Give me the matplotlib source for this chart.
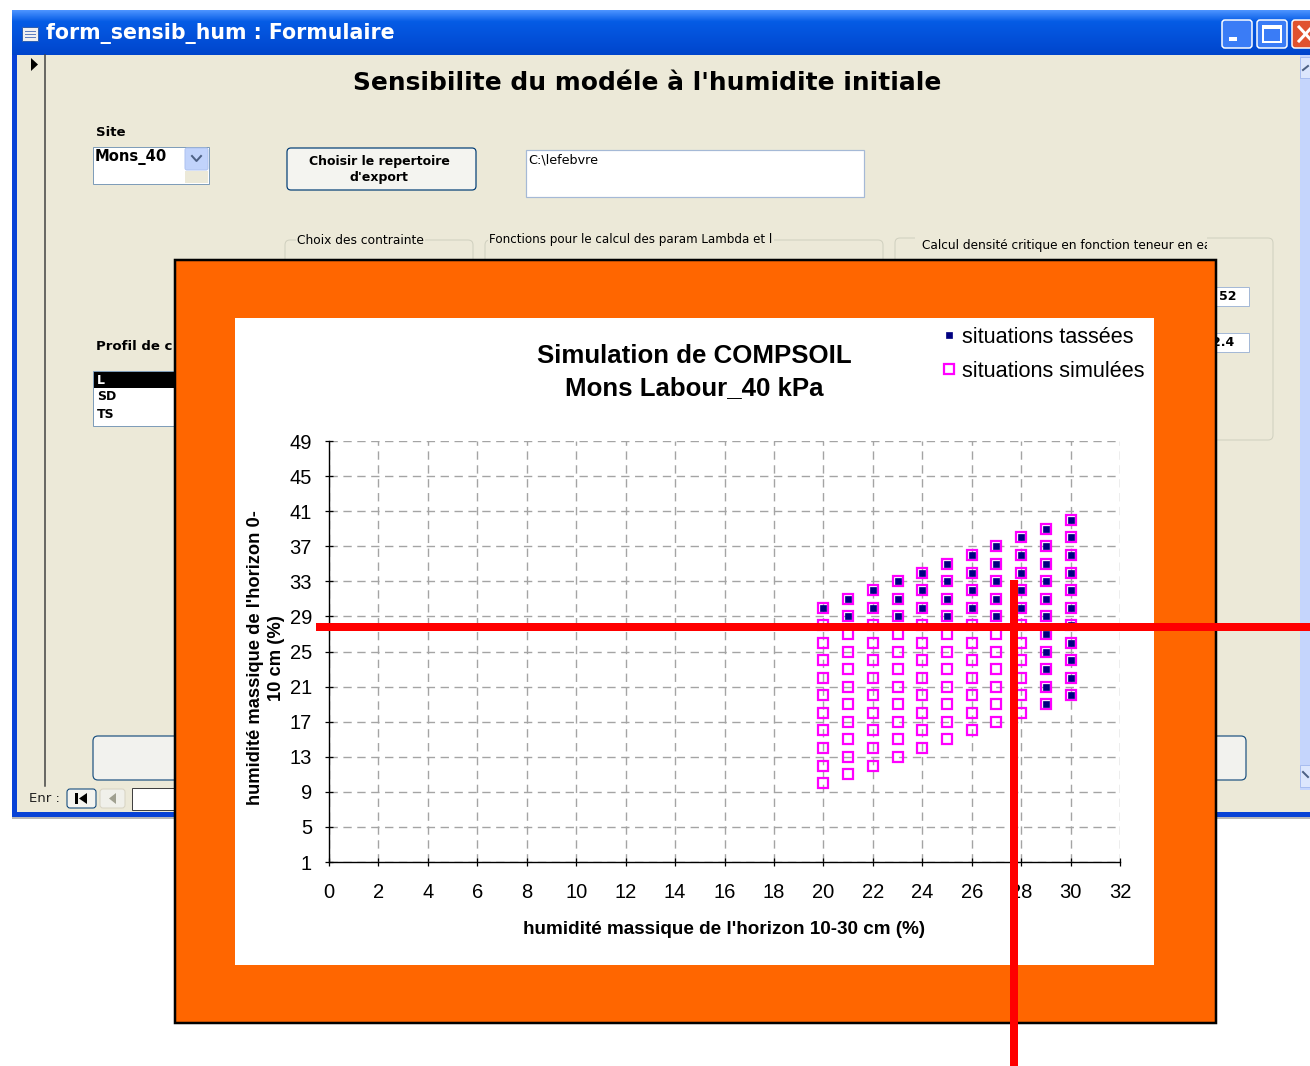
import matplotlib
matplotlib.use('Agg')
import matplotlib.pyplot as plt
import numpy as np
from matplotlib.patches import Rectangle, FancyBboxPatch, Polygon
from matplotlib.lines import Line2D
from matplotlib.transforms import Bbox, TransformedBbox

# ---------------- data ----------------
humidite_10_30 = [20, 21, 22, 23, 24, 25, 26, 27, 28, 29, 30]
simulees_0_10 = [
    [10, 12, 14, 16, 18, 20, 22, 24, 26, 28, 30],
    [11, 13, 15, 17, 19, 21, 23, 25, 27, 29, 31],
    [12, 14, 16, 18, 20, 22, 24, 26, 28, 30, 32],
    [13, 15, 17, 19, 21, 23, 25, 27, 29, 31, 33],
    [14, 16, 18, 20, 22, 24, 26, 28, 30, 32, 34],
    [15, 17, 19, 21, 23, 25, 27, 29, 31, 33, 35],
    [16, 18, 20, 22, 24, 26, 28, 30, 32, 34, 36],
    [17, 19, 21, 23, 25, 27, 29, 31, 33, 35, 37],
    [18, 20, 22, 24, 26, 28, 30, 32, 34, 36, 38],
    [19, 21, 23, 25, 27, 29, 31, 33, 35, 37, 39],
    [20, 22, 24, 26, 28, 30, 32, 34, 36, 38, 40],
]
tassees_0_10 = [
    [30],
    [29, 31],
    [30, 32],
    [29, 31, 33],
    [30, 32, 34],
    [29, 31, 33, 35],
    [30, 32, 34, 36],
    [29, 31, 33, 35, 37],
    [30, 32, 34, 36, 38],
    [19, 21, 23, 25, 27, 29, 31, 33, 35, 37, 39],
    [20, 22, 24, 26, 28, 30, 32, 34, 36, 38, 40],
]
x_ticks = [0, 2, 4, 6, 8, 10, 12, 14, 16, 18, 20, 22, 24, 26, 28, 30, 32]
y_ticks = [1, 5, 9, 13, 17, 21, 25, 29, 33, 37, 41, 45, 49]
seuil_x = 27.7   # red marker lines drawn over the screenshot
seuil_y = 27.8

chart_title = "Simulation de COMPSOIL\nMons Labour_40 kPa"
xlabel = "humidité massique de l'horizon 10-30 cm (%)"
ylabel = "humidité massique de l'horizon 0-\n10 cm (%)"
legend_labels = ["situations tassées", "situations simulées"]

# ---------------- figure ----------------
W, H = 1310, 1066
PX = 0.72  # points per pixel at dpi 100
fig = plt.figure(figsize=(W / 100, H / 100), dpi=100, facecolor='white')

bg = fig.add_axes([0, 0, 1, 1], zorder=0)
bg.set_xlim(0, W)
bg.set_ylim(H, 0)
bg.axis('off')

BEIGE = '#ECE9D8'


def rect(x0, y0, x1, y1, fc, ec='none', lw=0, z=1, **kw):
    p = Rectangle((x0, y0), x1 - x0, y1 - y0, facecolor=fc, edgecolor=ec,
                  linewidth=lw * PX, zorder=z, **kw)
    bg.add_patch(p)
    return p


def rrect(x0, y0, x1, y1, fc, ec, lw=1, r=3, z=1):
    p = FancyBboxPatch((x0, y0), x1 - x0, y1 - y0,
                       boxstyle=f'round,pad=0,rounding_size={r}',
                       facecolor=fc, edgecolor=ec, linewidth=lw * PX, zorder=z)
    bg.add_patch(p)
    return p


def txt(x, y, s, size, weight='normal', color='black', ha='left', va='center',
        family='DejaVu Sans', z=5, **kw):
    return bg.text(x, y, s, fontsize=size, fontweight=weight, color=color,
                   ha=ha, va=va, family=family, zorder=z, **kw)


# ---- XP window ----
rect(12, 10, 1312, 818, '#0842D6')
grad = np.linspace(0, 1, 60)[:, None]
c_top = np.array([0.30, 0.58, 1.0])
c_mid = np.array([0.02, 0.36, 0.90])
c_bot = np.array([0.00, 0.27, 0.80])
cols = np.where(grad < 0.25, c_top + (c_mid - c_top) * (grad / 0.25),
                c_mid + (c_bot - c_mid) * ((grad - 0.25) / 0.75))
bg.imshow(cols.reshape(60, 1, 3), extent=[12, 1312, 55, 10], aspect='auto', zorder=1)
bg.set_xlim(0, W)
bg.set_ylim(H, 0)
rect(17, 55, 1312, 812, BEIGE, z=2)
rect(12, 817, 1312, 819, '#B8B8B8', z=2)
# record selector
bg.add_line(Line2D([44.5, 44.5], [55, 786], color='#404040', lw=1.5 * PX, zorder=3))
bg.add_patch(Polygon([(31, 58), (31, 71), (38, 64.5)], closed=True, fc='black', zorder=3))
# title bar
rect(22, 27, 38, 41, '#F0F0F0', ec='#3060B0', lw=1, z=3)
for yy in (31, 34, 37):
    bg.add_line(Line2D([25, 35], [yy, yy], color='#6080C0', lw=1 * PX, zorder=4))
txt(46, 34, 'form_sensib_hum : Formulaire', 14.8, 'bold', 'white', z=4)
rrect(1222, 20, 1252, 48, '#3A7CF6', 'white', lw=1.5, r=3, z=3)
rect(1229, 37, 1237, 41, 'white', z=4)
rrect(1257, 20, 1287, 48, '#3A7CF6', 'white', lw=1.5, r=3, z=3)
rect(1263, 26, 1281, 42, 'none', ec='white', lw=2, z=4)
rect(1263, 26, 1281, 29, 'white', z=4)
rrect(1292, 20, 1325, 48, '#E0522F', 'white', lw=1.5, r=3, z=3)
bg.add_line(Line2D([1299, 1312], [27, 41], color='white', lw=3 * PX, zorder=4))
bg.add_line(Line2D([1299, 1312], [41, 27], color='white', lw=3 * PX, zorder=4))
# scrollbar
rect(1300, 55, 1312, 790, '#C5D5FC', z=3)
rect(1300, 57, 1312, 78, '#DCE6FD', ec='#A8BDF0', lw=1, z=3)
rect(1300, 765, 1312, 787, '#DCE6FD', ec='#A8BDF0', lw=1, z=3)
bg.add_line(Line2D([1303, 1308], [70, 66], color='#4D6185', lw=2 * PX, zorder=4))
bg.add_line(Line2D([1303, 1308], [772, 777], color='#4D6185', lw=2 * PX, zorder=4))

# ---- form content ----
txt(647, 83, "Sensibilite du modéle à l'humidite initiale", 17.9, 'bold', ha='center')
txt(96, 132, 'Site', 9.5, 'bold')
rect(93, 147, 209, 184, 'white', ec='#7F9DB9', lw=1, z=3)
rrect(185, 148, 208, 170, '#C1D3FB', '#AFC3F0', lw=1, r=2, z=4)
rect(185, 171, 208, 183, BEIGE, z=4)
bg.add_line(Line2D([192, 196.5, 201], [156, 161, 156], color='#4D6185', lw=2 * PX, zorder=5))
txt(95, 157, 'Mons_40', 10.6, 'bold')
rrect(287, 148, 476, 190, '#F4F4F0', '#003C74', lw=1.2, r=4, z=3)
txt(379, 169.5, "Choisir le repertoire\nd'export", 9.0, 'bold', ha='center', linespacing=1.3)
rect(526, 150, 864, 197, 'white', ec='#A5B9D6', lw=1.2, z=3)
txt(528, 160, 'C:\\lefebvre', 9.2, 'normal')

# group boxes
rrect(285, 240, 473, 330, 'none', '#D0D0BF', lw=1, r=5, z=3)
rrect(485, 240, 883, 330, 'none', '#D0D0BF', lw=1, r=5, z=3)
rrect(895, 238, 1273, 440, 'none', '#D0D0BF', lw=1, r=5, z=3)
txt(297, 241, 'Choix des contrainte', 8.8, 'normal', z=4,
    bbox=dict(fc=BEIGE, ec='none', pad=1))
txt(489, 240, 'Fonctions pour le calcul des param Lambda et l', 8.6, 'normal', z=4,
    bbox=dict(fc=BEIGE, ec='none', pad=1))
rect(915, 232, 1207, 255, BEIGE, z=4)
t_calc = txt(922, 245, 'Calcul densité critique en fonction teneur en eau', 8.7, 'normal', z=5)
t_calc.set_clip_box(TransformedBbox(Bbox([[915, 232], [1207, 256]]), bg.transData))
t_calc.set_clip_on(True)
rect(1216, 287, 1249, 306, 'white', ec='#A5B9D6', lw=1, z=4)
txt(1219, 297, '52', 9, 'bold', z=5)
rect(1210, 333, 1249, 352, 'white', ec='#A5B9D6', lw=1, z=4)
txt(1212, 343, '2.4', 9, 'bold', z=5)

txt(96, 346, 'Profil de c', 9.5, 'bold')
rect(93, 371, 185, 426, 'white', ec='#7F9DB9', lw=1, z=3)
rect(94, 372, 185, 388, 'black', z=4)
txt(97, 380, 'L', 9, 'bold', 'white')
txt(97, 397, 'SD', 9, 'bold')
txt(97, 414, 'TS', 9, 'bold')

rrect(93, 736, 210, 780, '#F2F2EE', '#1C5180', lw=1.2, r=5, z=3)
rrect(1190, 736, 1246, 780, '#F2F2EE', '#1C5180', lw=1.2, r=5, z=3)

txt(29, 798, 'Enr :', 9.5, 'normal', '#202020')
rrect(67, 789, 96, 808, '#F4F4F0', '#003C74', lw=1, r=3, z=3)
rect(75, 793, 78, 804, 'black', z=4)
bg.add_patch(Polygon([(87, 793), (87, 804), (79, 798.5)], closed=True, fc='black', zorder=4))
rrect(100, 789, 125, 808, '#F0F0EA', '#D8D4C4', lw=1, r=3, z=3)
bg.add_patch(Polygon([(116, 793), (116, 804), (109, 798.5)], closed=True, fc='#A0A090', zorder=4))
rect(132, 788, 210, 810, 'white', ec='#404040', lw=1, z=3)

# ---- orange frame and white chart area ----
rect(175, 260, 1216, 1023, '#FF6600', ec='black', lw=2.5, z=20)
rect(235, 318, 1154, 965, 'white', z=21)
txt(694, 372, chart_title, 18.6, 'bold', ha='center', family='Liberation Sans',
    linespacing=1.38, z=22)

# ---------------- chart ----------------
ax = fig.add_axes([329 / W, (H - 862) / H, 791 / W, 421 / H], zorder=5)
ax.patch.set_visible(False)

sx, sy, tx, ty = [], [], [], []
for xv, ys in zip(humidite_10_30, simulees_0_10):
    sx += [xv] * len(ys)
    sy += ys
for xv, ys in zip(humidite_10_30, tassees_0_10):
    tx += [xv] * len(ys)
    ty += ys

h_sim, = ax.plot(sx, sy, ls='none', marker='s', ms=6.5, mfc='none', mec='#FF00FF',
                 mew=1.6, zorder=3)
h_tas, = ax.plot(tx, ty, ls='none', marker='s', ms=4.3, mfc='#000080', mec='#000080',
                 mew=0.5, zorder=4)

ax.set_xlim(0, 32)
ax.set_ylim(1, 49)
ax.set_xticks(x_ticks)
ax.set_yticks(y_ticks)
ax.grid(True, color='#A4A4A4', lw=1.0, linestyle=(0, (6, 4)))
ax.set_axisbelow(True)
for s in ('top', 'right'):
    ax.spines[s].set_visible(False)
for s in ('left', 'bottom'):
    ax.spines[s].set_color('black')
    ax.spines[s].set_linewidth(1.0)
ax.tick_params(axis='both', direction='inout', length=5.8, width=0.9, colors='black',
               labelsize=14.5)
ax.tick_params(axis='y', pad=9.3)
ax.tick_params(axis='x', pad=12.0)
for lab in ax.get_xticklabels() + ax.get_yticklabels():
    lab.set_family('Liberation Sans')

ax.set_xlabel(xlabel, fontsize=13.6, fontweight='bold', family='Liberation Sans', labelpad=14)
ax.set_ylabel(ylabel, fontsize=13.2, fontweight='bold', family='Liberation Sans',
              linespacing=1.27)
ax.yaxis.set_label_coords((285 - 329) / 791, (862 - 658) / 421)

leg = ax.legend([h_tas, h_sim], legend_labels, loc='upper left',
                bbox_to_anchor=(943, 327), bbox_transform=bg.transData,
                frameon=False, borderpad=0, handlelength=0.55, handletextpad=0.35,
                labelspacing=0.6, borderaxespad=0,
                prop={'family': 'Liberation Sans', 'size': 15.6})
leg.set_zorder(30)

# red annotation lines drawn over the screenshot
ax.plot([-0.53, 40], [seuil_y, seuil_y], color='#FF0000', lw=8 * PX,
        solid_capstyle='butt', clip_on=False, zorder=50)
ax.plot([seuil_x, seuil_x], [33.2, -25], color='#FF0000', lw=8 * PX,
        solid_capstyle='butt', clip_on=False, zorder=50)

fig.savefig('out.png', dpi=100, facecolor='white')
